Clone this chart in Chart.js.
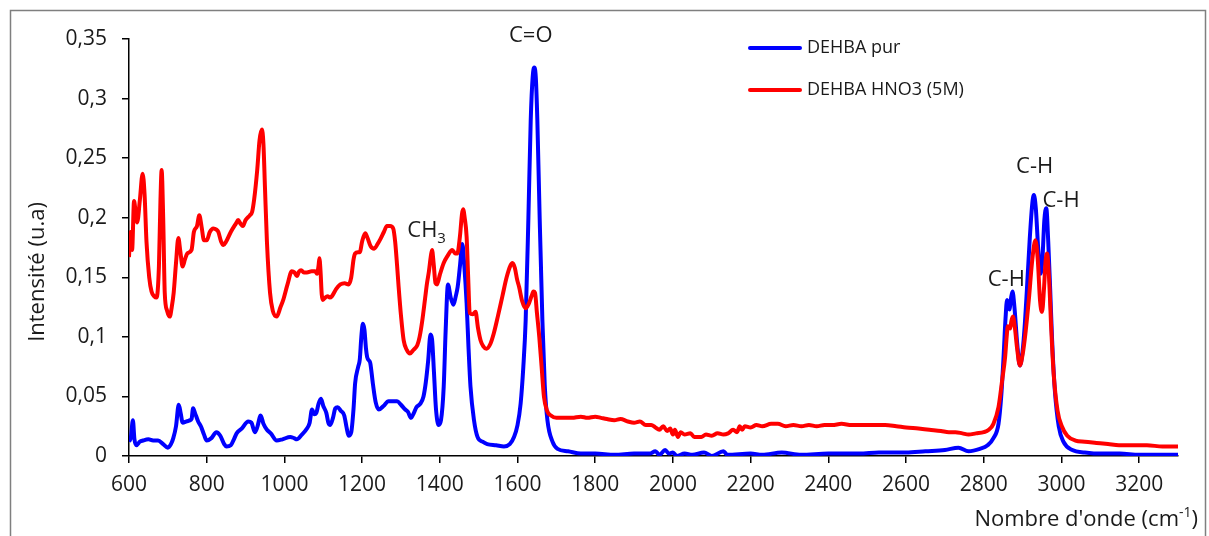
<!DOCTYPE html>
<html>
<head>
<meta charset="utf-8">
<script src="https://cdn.jsdelivr.net/npm/chart.js@4"></script>
<style>
  html, body { margin: 0; padding: 0; background: #fff; }
  canvas { display: block; }
</style>
</head>
<body>
<canvas id="spectrum" width="1209" height="536"></canvas>
<script>
// DEHBA pur (blue)
const blueX = [600, 605, 610, 614, 619, 628, 636, 650, 662, 675, 688, 700, 708, 714, 721, 728, 733, 738, 748, 757, 761, 765, 770, 778, 785, 793, 800, 812, 825, 835, 845, 851, 862, 870, 877, 890, 907, 915, 924, 930, 939, 946, 955, 965, 980, 995, 1015, 1025, 1032, 1045, 1058, 1065, 1071, 1077, 1082, 1088, 1094, 1100, 1108, 1113, 1118, 1125, 1131, 1137, 1145, 1154, 1160, 1165, 1172, 1178, 1182, 1190, 1194, 1198, 1202, 1206, 1210, 1213, 1218, 1221, 1228, 1235, 1243, 1255, 1268, 1280, 1290, 1300, 1311, 1318, 1326, 1333, 1340, 1350, 1358, 1364, 1370, 1376, 1380, 1385, 1390, 1397, 1403, 1410, 1415, 1421, 1428, 1435, 1441, 1446, 1452, 1458, 1463, 1469, 1474, 1479, 1488, 1497, 1510, 1522, 1545, 1565, 1580, 1591, 1600, 1608, 1615, 1621, 1628, 1634, 1639, 1643, 1647, 1651, 1657, 1664, 1670, 1677, 1690, 1703, 1730, 1763, 1800, 1850, 1900, 1940, 1955, 1965, 1980, 1990, 2000, 2010, 2030, 2050, 2080, 2100, 2130, 2140, 2200, 2230, 2280, 2330, 2400, 2480, 2530, 2600, 2650, 2700, 2735, 2761, 2790, 2810, 2825, 2838, 2845, 2851, 2856, 2860, 2866, 2870, 2874, 2879, 2886, 2893, 2900, 2906, 2911, 2918, 2925, 2929, 2934, 2940, 2946, 2951, 2956, 2961, 2966, 2971, 2976, 2983, 2993, 3005, 3028, 3060, 3105, 3150, 3200, 3250, 3300];
const blueY = [0.012, 0.016, 0.030, 0.014, 0.009, 0.012, 0.013, 0.014, 0.013, 0.013, 0.010, 0.007, 0.010, 0.015, 0.025, 0.043, 0.036, 0.028, 0.029, 0.030, 0.031, 0.040, 0.036, 0.029, 0.025, 0.018, 0.013, 0.015, 0.020, 0.017, 0.010, 0.008, 0.009, 0.014, 0.019, 0.023, 0.029, 0.028, 0.020, 0.024, 0.034, 0.027, 0.022, 0.019, 0.013, 0.014, 0.016, 0.015, 0.014, 0.018, 0.023, 0.028, 0.039, 0.035, 0.036, 0.044, 0.048, 0.042, 0.036, 0.028, 0.026, 0.032, 0.040, 0.041, 0.038, 0.034, 0.024, 0.017, 0.020, 0.040, 0.061, 0.075, 0.081, 0.100, 0.111, 0.106, 0.090, 0.083, 0.080, 0.078, 0.060, 0.045, 0.039, 0.042, 0.046, 0.046, 0.046, 0.043, 0.039, 0.037, 0.032, 0.036, 0.041, 0.044, 0.050, 0.062, 0.080, 0.102, 0.098, 0.070, 0.040, 0.026, 0.030, 0.058, 0.105, 0.144, 0.133, 0.127, 0.134, 0.142, 0.160, 0.178, 0.160, 0.128, 0.090, 0.058, 0.030, 0.016, 0.012, 0.010, 0.009, 0.008, 0.010, 0.016, 0.026, 0.044, 0.075, 0.114, 0.200, 0.282, 0.318, 0.326, 0.318, 0.282, 0.200, 0.114, 0.060, 0.030, 0.012, 0.006, 0.004, 0.002, 0.002, 0.001, 0.002, 0.002, 0.004, 0.001, 0.005, 0.002, 0.003, 0.000, 0.002, 0.001, 0.003, 0.000, 0.004, 0.001, 0.002, 0.001, 0.003, 0.001, 0.002, 0.002, 0.003, 0.003, 0.004, 0.005, 0.007, 0.004, 0.006, 0.009, 0.015, 0.027, 0.050, 0.083, 0.115, 0.131, 0.123, 0.132, 0.138, 0.125, 0.095, 0.076, 0.088, 0.112, 0.139, 0.180, 0.212, 0.219, 0.208, 0.175, 0.153, 0.165, 0.198, 0.208, 0.180, 0.140, 0.097, 0.055, 0.025, 0.012, 0.005, 0.003, 0.002, 0.002, 0.001, 0.001, 0.001];

// DEHBA HNO3 (5M) (red)
const redX = [600, 602, 604, 608, 613, 617, 621, 628, 635, 640, 645, 652, 658, 665, 671, 677, 681, 684, 688, 692, 698, 705, 710, 715, 721, 727, 732, 738, 744, 750, 761, 767, 775, 781, 787, 793, 800, 808, 817, 825, 830, 837, 843, 850, 862, 875, 881, 887, 893, 900, 911, 917, 922, 930, 936, 942, 946, 950, 955, 963, 970, 980, 990, 997, 1008, 1019, 1026, 1032, 1038, 1043, 1050, 1058, 1070, 1079, 1084, 1088, 1090, 1093, 1096, 1099, 1105, 1111, 1117, 1122, 1133, 1144, 1155, 1165, 1172, 1178, 1182, 1189, 1194, 1200, 1208, 1214, 1222, 1231, 1240, 1247, 1256, 1264, 1272, 1280, 1285, 1290, 1294, 1300, 1307, 1315, 1323, 1332, 1342, 1348, 1355, 1362, 1367, 1372, 1377, 1380, 1384, 1389, 1393, 1400, 1410, 1420, 1432, 1440, 1445, 1452, 1457, 1460, 1464, 1469, 1473, 1477, 1485, 1492, 1498, 1505, 1512, 1520, 1530, 1539, 1550, 1561, 1572, 1582, 1587, 1593, 1599, 1604, 1612, 1621, 1628, 1636, 1641, 1645, 1650, 1656, 1662, 1668, 1676, 1686, 1700, 1720, 1740, 1763, 1780, 1800, 1815, 1830, 1849, 1865, 1884, 1900, 1915, 1930, 1944, 1955, 1965, 1975, 1985, 1993, 2000, 2005, 2013, 2020, 2030, 2045, 2055, 2073, 2085, 2100, 2115, 2130, 2142, 2155, 2165, 2172, 2178, 2185, 2200, 2215, 2230, 2253, 2270, 2290, 2310, 2331, 2350, 2370, 2390, 2410, 2434, 2460, 2490, 2520, 2546, 2575, 2600, 2632, 2660, 2690, 2710, 2727, 2745, 2761, 2780, 2800, 2813, 2825, 2838, 2848, 2855, 2859, 2862, 2868, 2871, 2875, 2880, 2886, 2893, 2900, 2908, 2916, 2925, 2933, 2939, 2945, 2950, 2955, 2959, 2963, 2968, 2974, 2980, 2990, 3001, 3015, 3036, 3060, 3090, 3120, 3148, 3180, 3220, 3260, 3300];
const redY = [0.167, 0.180, 0.188, 0.173, 0.214, 0.205, 0.196, 0.215, 0.237, 0.220, 0.180, 0.150, 0.138, 0.134, 0.133, 0.159, 0.215, 0.240, 0.200, 0.137, 0.122, 0.117, 0.125, 0.137, 0.162, 0.183, 0.172, 0.159, 0.165, 0.170, 0.173, 0.188, 0.193, 0.202, 0.192, 0.181, 0.181, 0.188, 0.191, 0.190, 0.188, 0.180, 0.177, 0.180, 0.188, 0.195, 0.198, 0.195, 0.193, 0.198, 0.202, 0.205, 0.215, 0.240, 0.265, 0.274, 0.262, 0.225, 0.180, 0.137, 0.122, 0.117, 0.125, 0.131, 0.144, 0.155, 0.154, 0.151, 0.155, 0.156, 0.154, 0.154, 0.155, 0.155, 0.153, 0.160, 0.166, 0.155, 0.136, 0.131, 0.133, 0.134, 0.133, 0.134, 0.140, 0.144, 0.145, 0.144, 0.150, 0.165, 0.170, 0.171, 0.171, 0.180, 0.187, 0.183, 0.176, 0.174, 0.178, 0.182, 0.188, 0.193, 0.193, 0.191, 0.180, 0.160, 0.142, 0.118, 0.097, 0.089, 0.086, 0.089, 0.093, 0.100, 0.114, 0.132, 0.145, 0.155, 0.168, 0.173, 0.162, 0.145, 0.144, 0.152, 0.162, 0.168, 0.173, 0.170, 0.170, 0.185, 0.203, 0.207, 0.200, 0.184, 0.150, 0.120, 0.119, 0.121, 0.108, 0.097, 0.092, 0.090, 0.094, 0.103, 0.118, 0.134, 0.150, 0.160, 0.162, 0.158, 0.148, 0.142, 0.130, 0.124, 0.127, 0.134, 0.138, 0.137, 0.120, 0.100, 0.075, 0.050, 0.038, 0.034, 0.032, 0.032, 0.032, 0.033, 0.032, 0.033, 0.032, 0.031, 0.030, 0.031, 0.029, 0.028, 0.029, 0.026, 0.026, 0.024, 0.022, 0.025, 0.021, 0.023, 0.018, 0.022, 0.016, 0.020, 0.018, 0.019, 0.016, 0.016, 0.018, 0.017, 0.019, 0.018, 0.019, 0.022, 0.020, 0.025, 0.022, 0.025, 0.024, 0.026, 0.025, 0.027, 0.027, 0.025, 0.026, 0.025, 0.026, 0.025, 0.026, 0.026, 0.027, 0.026, 0.026, 0.026, 0.026, 0.025, 0.024, 0.023, 0.022, 0.021, 0.020, 0.020, 0.019, 0.018, 0.019, 0.020, 0.022, 0.027, 0.041, 0.065, 0.083, 0.100, 0.109, 0.107, 0.113, 0.117, 0.108, 0.090, 0.076, 0.085, 0.105, 0.131, 0.165, 0.181, 0.165, 0.130, 0.121, 0.140, 0.163, 0.170, 0.150, 0.105, 0.069, 0.038, 0.025, 0.017, 0.013, 0.012, 0.011, 0.010, 0.009, 0.009, 0.009, 0.008, 0.008];

const seriesNames = ['DEHBA pur', 'DEHBA HNO3 (5M)'];
const seriesColors = ['#0000ff', '#ff0000'];

const xTicks = [600, 800, 1000, 1200, 1400, 1600, 1800, 2000, 2200, 2400, 2600, 2800, 3000, 3200];
const yTickLabels = ['0', '0,05', '0,1', '0,15', '0,2', '0,25', '0,3', '0,35'];

// peak labels: text, subscript, wavenumber, intensity at label centre
const peakLabels = [
  { text: 'C=O', sub: '', x: 1634, y: 0.353 },
  { text: 'CH', sub: '3', x: 1366, y: 0.189 },
  { text: 'C-H', sub: '', x: 2858, y: 0.148 },
  { text: 'C-H', sub: '', x: 2931, y: 0.243 },
  { text: 'C-H', sub: '', x: 2999, y: 0.214 }
];

const FONT = '"Open Sans", "DejaVu Sans", sans-serif';

const zip = (xs, ys) => xs.map((x, i) => ({ x, y: ys[i] }));

const extras = {
  id: 'extras',
  afterDraw(chart) {
    const ctx = chart.ctx;
    const xs = chart.scales.x;
    const ys = chart.scales.y;
    ctx.save();

    // outer frame
    ctx.strokeStyle = '#7f7f7f';
    ctx.lineWidth = 1.5;
    ctx.beginPath();
    ctx.moveTo(10.5, 540);
    ctx.lineTo(10.5, 10.5);
    ctx.lineTo(1205.5, 10.5);
    ctx.lineTo(1205.5, 540);
    ctx.stroke();

    ctx.fillStyle = '#1a1a1a';
    ctx.textBaseline = 'middle';

    // peak labels
    peakLabels.forEach(p => {
      const px = xs.getPixelForValue(p.x);
      const py = ys.getPixelForValue(p.y);
      ctx.font = '22px ' + FONT;
      const w = ctx.measureText(p.text).width;
      ctx.font = '15px ' + FONT;
      const ws = p.sub ? ctx.measureText(p.sub).width : 0;
      const left = px - (w + ws) / 2;
      ctx.font = '22px ' + FONT;
      ctx.textAlign = 'left';
      ctx.fillText(p.text, left, py);
      if (p.sub) {
        ctx.font = '15px ' + FONT;
        ctx.fillText(p.sub, left + w, py + 8);
      }
    });

    // x axis title with superscript, right aligned
    const right = 1198;
    const ty = 520;
    ctx.font = '22px ' + FONT;
    const a = 'Nombre d\'onde (cm';
    const c = ')';
    const wa = ctx.measureText(a).width;
    const wc = ctx.measureText(c).width;
    ctx.font = '14px ' + FONT;
    const b = '-1';
    const wb = ctx.measureText(b).width;
    let x0 = right - wa - wb - wc;
    ctx.font = '22px ' + FONT;
    ctx.fillText(a, x0, ty);
    ctx.fillText(c, x0 + wa + wb, ty);
    ctx.font = '14px ' + FONT;
    ctx.fillText(b, x0 + wa, ty - 7);

    // y axis title
    ctx.save();
    ctx.translate(38, 272);
    ctx.rotate(-Math.PI / 2);
    ctx.textAlign = 'center';
    ctx.font = '22px ' + FONT;
    ctx.fillText('Intensité (u.a)', 0, 0);
    ctx.restore();

    // legend
    ctx.font = '18px ' + FONT;
    ctx.textAlign = 'left';
    seriesNames.forEach((name, i) => {
      const ly = 48 + i * 42;
      ctx.strokeStyle = seriesColors[i];
      ctx.lineWidth = 4;
      ctx.lineCap = 'round';
      ctx.beginPath();
      ctx.moveTo(750, ly);
      ctx.lineTo(800, ly);
      ctx.stroke();
      ctx.fillStyle = '#1a1a1a';
      ctx.fillText(name, 807, ly);
    });

    ctx.restore();
  }
};

new Chart(document.getElementById('spectrum'), {
  type: 'line',
  data: {
    datasets: [
      {
        label: seriesNames[0],
        data: zip(blueX, blueY),
        borderColor: seriesColors[0],
        borderWidth: 4,
        pointRadius: 0,
        cubicInterpolationMode: 'monotone',
        order: 1
      },
      {
        label: seriesNames[1],
        data: zip(redX, redY),
        borderColor: seriesColors[1],
        borderWidth: 4,
        pointRadius: 0,
        cubicInterpolationMode: 'monotone',
        order: 0
      }
    ]
  },
  options: {
    responsive: false,
    animation: false,
    layout: { padding: { top: 39, right: 31, left: 0, bottom: 0 } },
    plugins: {
      legend: { display: false },
      tooltip: { enabled: false }
    },
    scales: {
      x: {
        type: 'linear',
        min: 600,
        max: 3300,
        afterBuildTicks: (scale) => {
          scale.ticks = xTicks.map(v => ({ value: v }));
        },
        afterFit: (scale) => { scale.height = 80; },
        grid: { display: true, drawOnChartArea: false, drawTicks: true, tickLength: 7, color: '#000', lineWidth: 1.5 },
        border: { display: true, color: '#000', width: 1.5 },
        ticks: {
          color: '#1a1a1a',
          padding: 9,
          maxRotation: 0,
          autoSkip: false,
          font: { family: FONT, size: 21 },
          callback: (v) => String(v)
        }
      },
      y: {
        min: 0,
        max: 0.35,
        afterBuildTicks: (scale) => {
          scale.ticks = yTickLabels.map((_, i) => ({ value: i * 0.05 }));
        },
        afterFit: (scale) => { scale.width = 129; },
        grid: { display: true, drawOnChartArea: false, drawTicks: true, tickLength: 7, color: '#000', lineWidth: 1.5 },
        border: { display: true, color: '#000', width: 1.5 },
        ticks: {
          color: '#1a1a1a',
          padding: 15,
          font: { family: FONT, size: 21 },
          callback: (v, i) => yTickLabels[i]
        }
      }
    }
  },
  plugins: [extras]
});
</script>
</body>
</html>
